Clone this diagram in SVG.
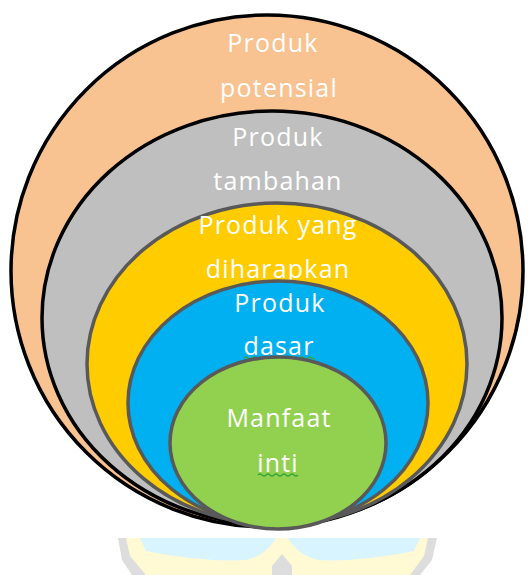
<svg xmlns="http://www.w3.org/2000/svg" width="532" height="575" viewBox="0 0 532 575">
  <style>
    .lvl text { font-family: "Open Sans", "Liberation Sans", sans-serif; font-size: 25px; letter-spacing: 1.2px; fill: #ffffff; text-anchor: middle; }
    .ring-dark { stroke: #000000; stroke-width: 3.5; }
    .ring-grey { stroke: #595959; stroke-width: 3.5; }
    .squiggle { fill: none; stroke: #3aa53a; stroke-width: 1.2; }
  </style>

  <rect width="532" height="575" fill="#ffffff"/>

  <!-- faint emblem at the bottom edge -->
  <g id="emblem" opacity="0.6">
    <path d="M118 538 L437 538 L432 560 L420 575 L132 575 L122 560 Z" fill="#c8c8c8"/>
    <path d="M126 538 L428 538 L424 556 L410 575 L146 575 L130 556 Z" fill="#fff6b8"/>
    <path d="M140 538 L276 538 C270 548 262 556 246 560 C210 562 170 556 146 551 Z" fill="#bff0ff"/>
    <path d="M288 538 L420 538 L414 551 C390 556 350 562 318 560 C302 556 294 548 288 538 Z" fill="#bff0ff"/>
    <path d="M272 566 L282 554 L292 566 L292 575 L272 575 Z" fill="#c8c8c8"/>
  </g>

  <!-- nested levels, outermost first -->
  <g id="potensial" class="lvl">
    <ellipse cx="267" cy="271" rx="256" ry="256" fill="#f8c291" class="ring-dark"/>
    <text x="273" y="52">Produk</text>
    <text x="279" y="97">potensial</text>
  </g>

  <g id="tambahan" class="lvl">
    <ellipse cx="272" cy="318" rx="230" ry="207" fill="#bfbfbf" class="ring-dark"/>
    <text x="278" y="146">Produk</text>
    <text x="278" y="190">tambahan</text>
  </g>

  <g id="diharapkan" class="lvl">
    <ellipse cx="277" cy="364" rx="190" ry="161" fill="#ffcc00" class="ring-grey"/>
    <text x="278" y="234">Produk yang</text>
    <text x="278" y="278">diharapkan</text>
  </g>

  <g id="dasar" class="lvl">
    <ellipse cx="278" cy="403" rx="150" ry="122" fill="#00b0f0" class="ring-grey"/>
    <text x="280" y="312">Produk</text>
    <text x="279" y="355">dasar</text>
    <path class="squiggle" d="M244 358 q2 -2 4 0 t4 0 t4 0 t4 0 t4 0 t4 0 t4 0 t4 0 t4 0 t4 0 t4 0 t4 0 t4 0 t4 0 t4 0 t4 0 t4 0 t2 0"/>
  </g>

  <g id="inti" class="lvl">
    <ellipse cx="278" cy="443" rx="108" ry="86" fill="#92d050" class="ring-grey"/>
    <text x="279" y="427">Manfaat</text>
    <text x="278" y="472">inti</text>
    <path class="squiggle" d="M258 475 q2 -2 4 0 t4 0 t4 0 t4 0 t4 0 t4 0 t4 0 t4 0 t4 0 t4 0"/>
  </g>
</svg>
